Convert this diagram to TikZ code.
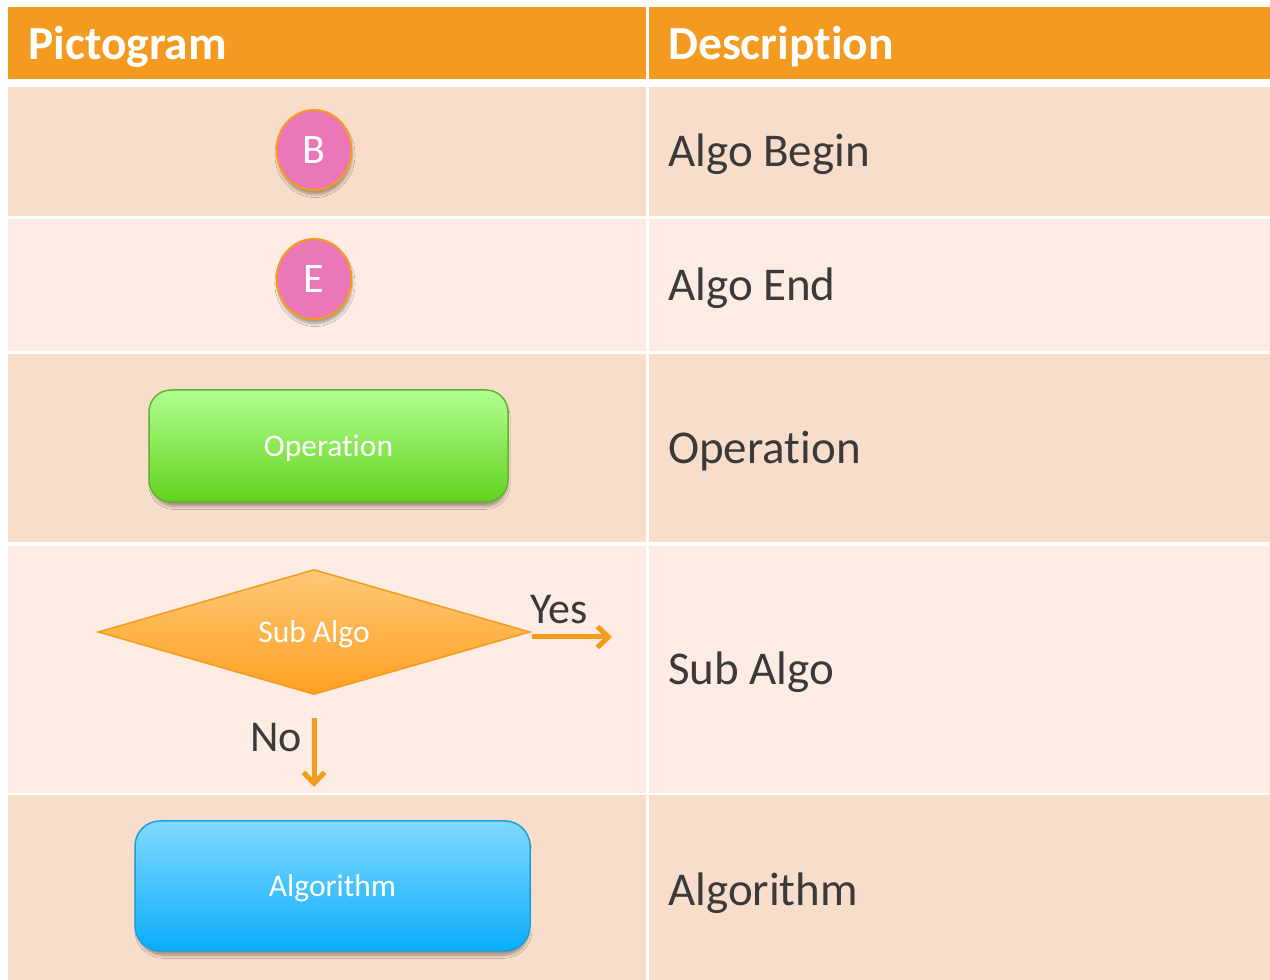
\documentclass[tikz,border=0pt]{standalone}
\usepackage{fontspec}
\setmainfont{Carlito}[Ligatures=NoCommon]
\usetikzlibrary{shapes.geometric,shadows.blur,arrows.meta}

\definecolor{hdr}{HTML}{F39A21}
\definecolor{banddark}{HTML}{F8DDCA}
\definecolor{bandlight}{HTML}{FCECE3}
\definecolor{ink}{HTML}{3A3A3A}
\definecolor{flow}{HTML}{F39C1E}
\definecolor{pinkfill}{HTML}{EC77B8}
\definecolor{greentop}{HTML}{B2FF91}
\definecolor{greenbot}{HTML}{62D21C}
\definecolor{greenline}{HTML}{63B030}
\definecolor{bluetop}{HTML}{80D9FF}
\definecolor{bluebot}{HTML}{0AADFB}
\definecolor{blueline}{HTML}{1B9FD8}
\definecolor{ortop}{HTML}{FFC878}
\definecolor{orbot}{HTML}{FFA020}

\tikzset{
  softshadow/.style={blur shadow={shadow xshift=1pt,shadow yshift=-5pt,
      shadow blur radius=3pt,shadow opacity=35,shadow scale=0.99}},
  headtext/.style={anchor=base west,inner sep=0pt,text=white,
      font=\fontsize{47.5}{56}\selectfont\bfseries},
  desctext/.style={anchor=base west,inner sep=0pt,text=ink,
      font=\fontsize{47}{56}\selectfont},
  marker/.style={ellipse,draw=flow,line width=2pt,fill=pinkfill,
      minimum width=75pt,minimum height=80pt,inner sep=0pt,text=white,
      font=\fontsize{42}{50}\selectfont,softshadow},
  boxtext/.style={text=white,font=\fontsize{31.5}{37}\selectfont,
      text height=27pt,text depth=6pt},
  opbox/.style={rectangle,rounded corners=22pt,draw=greenline,line width=1.5pt,
      top color=greentop,bottom color=greenbot,minimum width=359pt,
      minimum height=112pt,inner sep=0pt,boxtext,softshadow},
  algobox/.style={rectangle,rounded corners=25pt,draw=blueline,line width=1.5pt,
      top color=bluetop,bottom color=bluebot,minimum width=395pt,
      minimum height=130pt,inner sep=0pt,boxtext,softshadow},
  decision/.style={diamond,shape aspect=3.5,draw=flow,line width=1.5pt,
      top color=ortop,bottom color=orbot,minimum width=432pt,
      minimum height=125pt,inner sep=0pt,boxtext},
  flowarrow/.style={draw=flow,line width=5pt,
      -{Straight Barb[length=11pt,width=21pt]}},
  flowlabel/.style={inner sep=0pt,text=ink,font=\fontsize{44}{52}\selectfont}
}

\begin{document}
\begin{tikzpicture}[x=1pt,y=1pt]
\useasboundingbox (0,0) rectangle (1270,980);
\fill[white] (0,0) rectangle (1270,980);

% header row
\fill[hdr] (8,901) rectangle (645.5,973);
\fill[hdr] (649,901) rectangle (1270,973);

% banded body rows
\foreach \top/\bot/\col in {893/764/banddark,761/629/bandlight,
    626/438/banddark,434/187/bandlight,185/0/banddark}{
  \fill[\col] (8,\bot) rectangle (645.5,\top);
  \fill[\col] (649,\bot) rectangle (1270,\top);
}

% column titles
\node[headtext] (hpic) at (28,920) {Pictogram};
\node[headtext] (hdesc) at (668,920) {Description};

% descriptions
\node[desctext] (dbegin) at (668,813) {Algo Begin};
\node[desctext] (dend) at (668,679) {Algo End};
\node[desctext] (dop) at (668,516) {Operation};
\node[desctext] (dsub) at (668,295) {Sub Algo};
\node[desctext] (dalg) at (668,74) {Algorithm};

% pictograms
\node[marker] (begin) at (314,830) {B};
\node[marker] (end) at (314,701) {E};
\node[opbox] (op) at (328.5,534) {Operation};
\node[decision] (sub) at (314,348) {Sub Algo};
\node[algobox] (alg) at (332.5,94) {Algorithm};

% decision outcomes
\coordinate (yesend) at (612,343);
\coordinate (noend) at (314,193);
\draw[flowarrow] ([xshift=1pt,yshift=-5pt]sub.east) -- (yesend);
\draw[flowarrow] ([yshift=-23pt]sub.south) -- (noend);
\node[flowlabel,anchor=base west] (yes) at (530,356) {Yes};
\node[flowlabel,anchor=base east] (no) at (302,228) {No};
\end{tikzpicture}
\end{document}
